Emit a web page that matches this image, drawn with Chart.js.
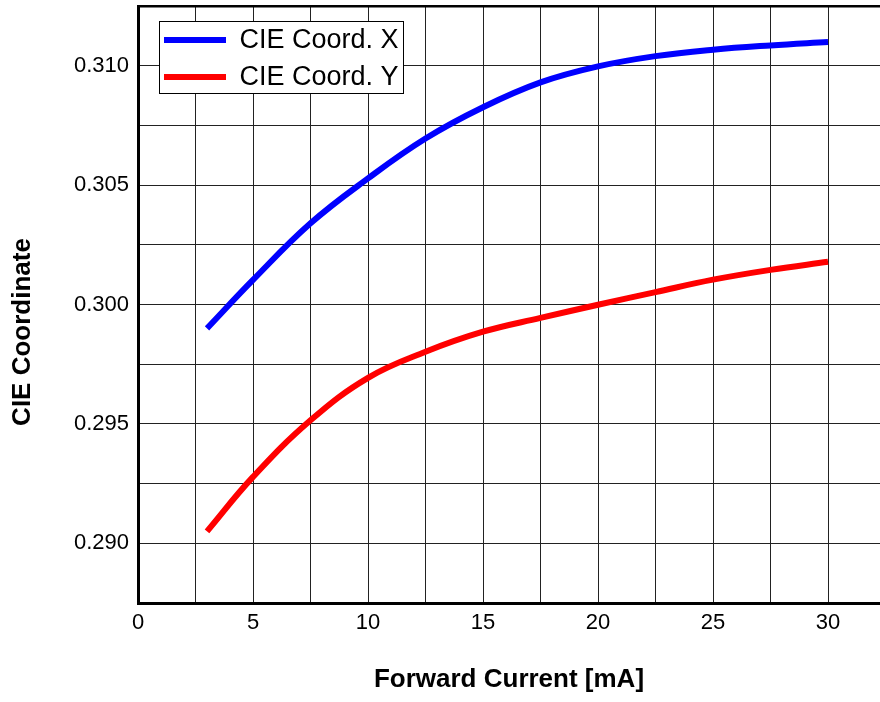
<!DOCTYPE html>
<html>
<head>
<meta charset="utf-8">
<script src="https://cdn.jsdelivr.net/npm/chart.js@4"></script>
<style>
  html, body { margin: 0; padding: 0; background: #fff; overflow: hidden; }
  #wrap { width: 880px; height: 702px; }
</style>
</head>
<body>
<div id="wrap"><canvas id="chart" width="880" height="702"></canvas></div>
<script>
// values
const currents = [3, 5, 7.5, 10, 12.5, 15, 17.5, 20, 22.5, 25, 27.5, 30];
const cieX = [0.2990, 0.30103, 0.30340, 0.30528, 0.30695, 0.30826, 0.30930, 0.30997, 0.31040, 0.31067, 0.31085, 0.31099];
const cieY = [0.2905, 0.29278, 0.29515, 0.29693, 0.29802, 0.29886, 0.29944, 0.29999, 0.30052, 0.30104, 0.30145, 0.30179];
const seriesNames = ['CIE Coord. X', 'CIE Coord. Y'];
const xTickLabels = ['0', '5', '10', '15', '20', '25', '30'];
const yTickLabels = ['0.290', '0.295', '0.300', '0.305', '0.310'];
const xTitle = 'Forward Current [mA]';
const yTitle = 'CIE Coordinate';

const FONT = '"Liberation Sans", Arial, Helvetica, sans-serif';

function points(ys) {
    return currents.map((c, i) => ({ x: c, y: ys[i] }));
}

// legend box inside the plot + rotated y title
const extras = {
    id: 'extras',
    afterDatasetsDraw(chart) {
        const ctx = chart.ctx;
        const area = chart.chartArea;
        const bx = Math.round(area.left) + 21.5;
        const by = Math.round(area.top) + 15.5;
        ctx.save();
        ctx.fillStyle = '#fff';
        ctx.fillRect(bx, by, 244, 72);
        ctx.strokeStyle = '#000';
        ctx.lineWidth = 1;
        ctx.strokeRect(bx, by, 244, 72);
        chart.data.datasets.forEach((ds, i) => {
            const y = by + 18.5 + i * 37;
            ctx.strokeStyle = ds.borderColor;
            ctx.lineWidth = 6;
            ctx.beginPath();
            ctx.moveTo(bx + 4.5, y);
            ctx.lineTo(bx + 66.5, y);
            ctx.stroke();
            ctx.fillStyle = '#000';
            ctx.font = '27px ' + FONT;
            ctx.textBaseline = 'middle';
            ctx.textAlign = 'left';
            ctx.fillText(ds.label, bx + 80, y + 1);
        });
        ctx.translate(23, 332);
        ctx.rotate(-Math.PI / 2);
        ctx.font = 'bold 26px ' + FONT;
        ctx.textAlign = 'center';
        ctx.textBaseline = 'middle';
        ctx.fillText(yTitle, 0, 0);
        ctx.restore();
    }
};

new Chart(document.getElementById('chart').getContext('2d'), {
    type: 'line',
    data: {
        datasets: [{
            label: seriesNames[0],
            data: points(cieX),
            borderColor: '#0000ff',
            borderWidth: 6,
            pointRadius: 0,
            tension: 0.4,
            fill: false
        }, {
            label: seriesNames[1],
            data: points(cieY),
            borderColor: '#ff0000',
            borderWidth: 6,
            pointRadius: 0,
            tension: 0.4,
            fill: false
        }]
    },
    options: {
        responsive: false,
        animation: false,
        devicePixelRatio: 1,
        layout: { padding: { top: 6, right: 0, left: 0, bottom: 0 } },
        plugins: {
            legend: { display: false },
            tooltip: { enabled: false }
        },
        scales: {
            x: {
                type: 'linear',
                min: 0,
                max: 32.26,
                afterFit(scale) {
                    scale.height = 99;
                    scale.paddingLeft = 0;
                    scale.paddingRight = 0;
                },
                border: { color: '#000', width: 3 },
                grid: { color: '#222', lineWidth: 1, drawTicks: false },
                ticks: {
                    stepSize: 2.5,
                    includeBounds: false,
                    autoSkip: false,
                    maxRotation: 0,
                    padding: 7,
                    color: '#000',
                    font: { family: FONT, size: 22 },
                    callback: v => xTickLabels.includes(String(v)) ? String(v) : ''
                },
                title: {
                    display: true,
                    text: xTitle,
                    color: '#000',
                    font: { family: FONT, size: 26, weight: 'bold' },
                    padding: { top: 0, bottom: 7 }
                }
            },
            y: {
                min: 0.2875,
                max: 0.3125,
                afterFit(scale) {
                    scale.width = 138;
                    scale.paddingTop = 0;
                    scale.paddingBottom = 0;
                },
                border: { color: '#000', width: 3 },
                grid: {
                    color: c => c.index === c.chart.scales.y.ticks.length - 1 ? '#000' : '#222',
                    lineWidth: c => c.index === c.chart.scales.y.ticks.length - 1 ? 2.5 : 1,
                    drawTicks: false
                },
                ticks: {
                    stepSize: 0.0025,
                    autoSkip: false,
                    padding: 9,
                    color: '#000',
                    font: { family: FONT, size: 22 },
                    callback: v => {
                        const s = (Math.round(v * 10000) / 10000).toFixed(3);
                        return yTickLabels.includes(s) && Math.round(v * 10000) % 50 === 0 ? s : '';
                    }
                }
            }
        }
    },
    plugins: [extras]
});
</script>
</body>
</html>
